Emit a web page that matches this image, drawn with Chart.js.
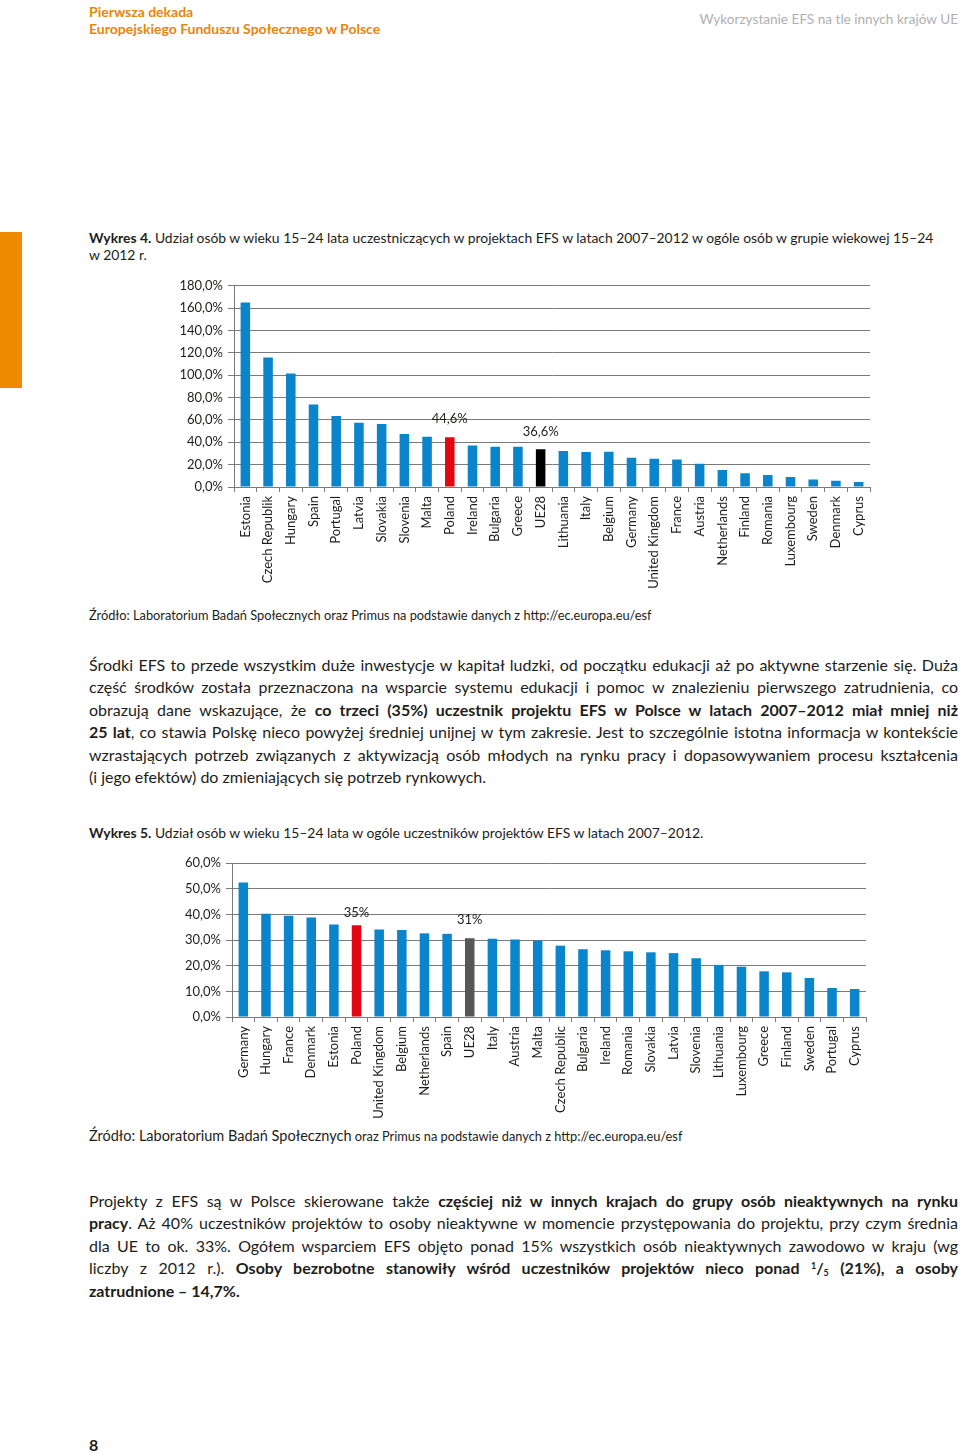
<!DOCTYPE html>
<html lang="pl">
<head>
<meta charset="utf-8">
<script src="https://cdn.jsdelivr.net/npm/chart.js@4/dist/chart.umd.min.js"></script>
<style>
  body { margin: 0; width: 960px; height: 1453px; position: relative; background: #fff; font-family: Lato, "Open Sans", sans-serif; color: #1d1d1b; overflow: hidden; }
  .abs { position: absolute; }
  .head { left: 89px; top: 4px; color: #e8850c; font-weight: bold; font-size: 14px; line-height: 16.5px; }
  .headr { right: 2px; top: 11px; color: #b0b0b0; font-size: 13.6px; }
  .bar { left: 0; top: 232px; width: 22px; height: 156px; background: #f08a00; }
  .cap { left: 89px; width: 860px; font-size: 13.9px; line-height: 17px; }
  .src { left: 89px; font-size: 12.8px; }
  .para { left: 89px; width: 869px; font-size: 16px; line-height: 22.4px; }
  .para div { text-align: justify; text-align-last: justify; white-space: nowrap; }
  .para div.last { text-align-last: left; }
  .frac { font-size: 9px; line-height: 0; position: relative; }
  .pnum { left: 89px; top: 1435px; font-weight: bold; font-size: 16px; }
</style>
</head>
<body>
<div class="abs head">Pierwsza dekada<br>Europejskiego Funduszu Społecznego w Polsce</div>
<div class="abs headr">Wykorzystanie EFS na tle innych krajów UE</div>
<div class="abs bar"></div>

<div class="abs cap" style="top:229px"><b>Wykres 4.</b> Udział osób w wieku 15–24 lata uczestniczących w projektach EFS w latach 2007–2012 w ogóle osób w grupie wiekowej 15–24<br>w 2012 r.</div>
<div class="abs" style="left:160px;top:273px;width:720px;height:325px"><canvas id="wykres4"></canvas></div>
<div class="abs src" style="top:607px">Źródło: Laboratorium Badań Społecznych oraz Primus na podstawie danych z http://ec.europa.eu/esf</div>

<div class="abs para" style="top:654px">
  <div>Środki EFS to przede wszystkim duże inwestycje w kapitał ludzki, od początku edukacji aż po aktywne starzenie się. Duża</div>
  <div>część środków została przeznaczona na wsparcie systemu edukacji i pomoc w znalezieniu pierwszego zatrudnienia, co</div>
  <div>obrazują dane wskazujące, że <b>co trzeci (35%) uczestnik projektu EFS w Polsce w latach 2007–2012 miał mniej niż</b></div>
  <div><b>25 lat</b>, co stawia Polskę nieco powyżej średniej unijnej w tym zakresie. Jest to szczególnie istotna informacja w kontekście</div>
  <div>wzrastających potrzeb związanych z aktywizacją osób młodych na rynku pracy i dopasowywaniem procesu kształcenia</div>
  <div class="last">(i jego efektów) do zmieniających się potrzeb rynkowych.</div>
</div>

<div class="abs cap" style="top:824px"><b>Wykres 5.</b> Udział osób w wieku 15–24 lata w ogóle uczestników projektów EFS w latach 2007–2012.</div>
<div class="abs" style="left:160px;top:850px;width:720px;height:270px"><canvas id="wykres5"></canvas></div>
<div class="abs src" style="top:1127px"><span style="font-size:14.5px">Źródło: Laboratorium Badań Społecznych</span> oraz Primus na podstawie danych z http://ec.europa.eu/esf</div>

<div class="abs para" style="top:1190px">
  <div>Projekty z EFS są w Polsce skierowane także <b>częściej niż w innych krajach do grupy osób nieaktywnych na rynku</b></div>
  <div><b>pracy</b>. Aż 40% uczestników projektów to osoby nieaktywne w momencie przystępowania do projektu, przy czym średnia</div>
  <div>dla UE to ok. 33%. Ogółem wsparciem EFS objęto ponad 15% wszystkich osób nieaktywnych zawodowo w kraju (wg</div>
  <div>liczby z 2012 r.). <b>Osoby bezrobotne stanowiły wśród uczestników projektów nieco ponad <span class="frac" style="top:-5px">1</span>/<span class="frac" style="top:2px">5</span> (21%), a osoby</b></div>
  <div class="last"><b>zatrudnione – 14,7%.</b></div>
</div>
<div class="abs pnum">8</div>

<script>
// Wykres 4
let kraje4 = ["Estonia", "Czech Republik", "Hungary", "Spain", "Portugal", "Latvia", "Slovakia", "Slovenia", "Malta", "Poland",
  "Ireland", "Bulgaria", "Greece", "UE28", "Lithuania", "Italy", "Belgium", "Germany", "United Kingdom", "France",
  "Austria", "Netherlands", "Finland", "Romania", "Luxembourg", "Sweden", "Denmark", "Cyprus"];
let udzial4 = [165.1, 115.9, 101.6, 73.9, 63.5, 57.5, 56.3, 47.4, 45.0, 44.6,
  37.2, 36.1, 36.1, 33.7, 32.2, 31.3, 31.6, 26.2, 25.3, 24.7,
  20.9, 15.2, 12.2, 10.7, 8.9, 6.6, 5.7, 4.5];
let etykiety4 = { Poland: "44,6%", UE28: "36,6%" };

// Wykres 5
let kraje5 = ["Germany", "Hungary", "France", "Denmark", "Estonia", "Poland", "United Kingdom", "Belgium", "Netherlands", "Spain",
  "UE28", "Italy", "Austria", "Malta", "Czech Republic", "Bulgaria", "Ireland", "Romania", "Slovakia", "Latvia",
  "Slovenia", "Lithuania", "Luxembourg", "Greece", "Finland", "Sweden", "Portugal", "Cyprus"];
let udzial5 = [52.4, 40.2, 39.4, 38.8, 36.0, 35.7, 34.1, 33.9, 32.6, 32.4,
  30.7, 30.5, 30.2, 29.8, 27.8, 26.4, 26.0, 25.6, 25.2, 24.9,
  22.9, 20.3, 19.6, 17.8, 17.4, 15.2, 11.3, 10.9];
let etykiety5 = { Poland: "35%", UE28: "31%" };

let niebieski = "#0a85cc";

function kolory(kraje, kolorUE) {
  return kraje.map(k => k == "Poland" ? "#e30613" : (k == "UE28" ? kolorUE : niebieski));
}

// podpisy nad wybranymi slupkami
let podpisy = {
  id: "podpisy",
  afterDatasetsDraw(chart) {
    let ctx = chart.ctx;
    let etykiety = chart.options.plugins.podpisy.teksty;
    let meta = chart.getDatasetMeta(0);
    ctx.save();
    ctx.font = "13px Lato";
    ctx.fillStyle = "#1d1d1b";
    ctx.textAlign = "center";
    ctx.textBaseline = "bottom";
    chart.data.labels.forEach((k, i) => {
      if (etykiety[k]) {
        let el = meta.data[i];
        ctx.fillText(etykiety[k], el.x, el.y - chart.options.plugins.podpisy.odstep[k]);
      }
    });
    ctx.restore();
  }
};

function rysuj(id, kraje, dane, kolorUE, max, krok, etykiety, odstep, yW, xH, pad) {
  new Chart(id, {
    type: "bar",
    data: {
      labels: kraje,
      datasets: [{
        data: dane,
        backgroundColor: kolory(kraje, kolorUE),
        barPercentage: 0.42,
        categoryPercentage: 1
      }]
    },
    plugins: [podpisy],
    options: {
      responsive: true,
      maintainAspectRatio: false,
      animation: false,
      layout: { padding: pad },
      plugins: {
        legend: { display: false },
        tooltip: { enabled: false },
        podpisy: { teksty: etykiety, odstep: odstep }
      },
      scales: {
        x: {
          grid: { offset: true, drawOnChartArea: false, color: "#7a7a7a", tickLength: 5 },
          border: { color: "#7a7a7a" },
          ticks: { color: "#1d1d1b", font: { family: "Lato", size: 13 }, maxRotation: 90, minRotation: 90, autoSkip: false, padding: 4 },
          afterFit: s => { s.height = xH; }
        },
        y: {
          min: 0, max: max,
          grid: { color: "#7a7a7a", tickLength: 6 },
          border: { color: "#7a7a7a" },
          ticks: {
            stepSize: krok, color: "#1d1d1b", font: { family: "Lato", size: 13 }, padding: 5,
            callback: v => v.toFixed(1).replace(".", ",") + "%"
          },
          afterFit: s => { s.width = yW; }
        }
      }
    }
  });
}

rysuj("wykres4", kraje4, udzial4, "#000000", 180, 20, etykiety4, { Poland: 12, UE28: 11 }, 74, 111, { top: 6, right: 10 });
rysuj("wykres5", kraje5, udzial5, "#575757", 60, 10, etykiety5, { Poland: 6, UE28: 12 }, 72, 103, { top: 13, right: 14 });
</script>
</body>
</html>
